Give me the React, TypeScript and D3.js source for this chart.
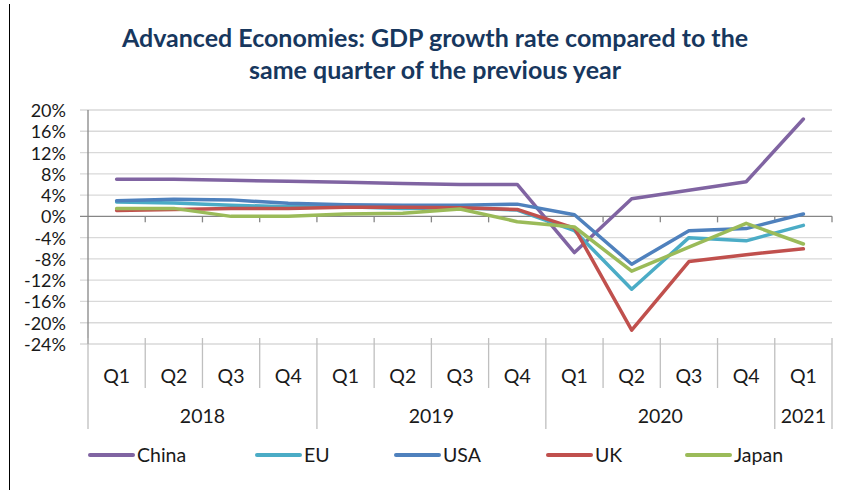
import React from "react";
import * as d3 from "d3";

const quarters = ["Q1", "Q2", "Q3", "Q4", "Q1", "Q2", "Q3", "Q4", "Q1", "Q2", "Q3", "Q4", "Q1"];
const yearLabels = ["2018", "2019", "2020", "2021"];
const yearSpans = [4, 4, 4, 1];
const yTicks = [20, 16, 12, 8, 4, 0, -4, -8, -12, -16, -20, -24];

const seriesNames = ["China", "EU", "USA", "UK", "Japan"];
const china = [7.0, 7.0, 6.8, 6.6, 6.4, 6.2, 6.0, 6.0, -6.8, 3.3, 4.9, 6.5, 18.3];
const eu = [2.7, 2.5, 2.1, 1.8, 1.8, 1.5, 1.6, 1.2, -2.7, -13.7, -4.0, -4.6, -1.7];
const usa = [2.95, 3.2, 3.1, 2.45, 2.2, 2.1, 2.1, 2.3, 0.3, -9.0, -2.7, -2.3, 0.45];
const uk = [1.1, 1.3, 1.5, 1.5, 1.7, 1.7, 1.6, 1.3, -2.2, -21.4, -8.5, -7.2, -6.1];
const japan = [1.5, 1.5, 0.0, 0.0, 0.45, 0.6, 1.4, -1.0, -2.0, -10.3, -5.8, -1.3, -5.2];
const seriesColors = ["#8064A2", "#4BACC6", "#4F81BD", "#C0504D", "#9BBB59"];
const legendX = [88, 255, 394, 546, 685];

const W = 851;
const H = 490;
const left = 88;
const right = 832;
const top = 110;
const bottom = 344;
const FONT = "Lato, 'Open Sans', sans-serif";

export default function App() {
  const data = [china, eu, usa, uk, japan];
  const x = d3.scaleBand<number>().domain(d3.range(quarters.length)).range([left, right]).padding(0);
  const y = d3.scaleLinear().domain([-24, 20]).range([bottom, top]);
  const line = d3
    .line<number>()
    .x((_, i) => (x(i) as number) + x.bandwidth() / 2)
    .y((d) => y(d));

  const yearBounds: number[] = [0];
  yearSpans.forEach((s, i) => yearBounds.push(yearBounds[i] + s));
  const bx = (i: number) => (i >= quarters.length ? right : (x(i) as number));

  return (
    <svg
      width={W}
      height={H}
      style={{ position: "absolute", left: 0, top: 0, background: "#fff" }}
      fontFamily={FONT}
    >
      <rect x={0} y={0} width={W} height={H} fill="#fff" />
      <line x1={9.5} x2={9.5} y1={4} y2={H} stroke="#000" strokeWidth={1} />

      <text x={435} y={47} textAnchor="middle" fontSize={25} fontWeight="bold" fill="#17375E">
        Advanced Economies: GDP growth rate compared to the
      </text>
      <text x={435} y={79} textAnchor="middle" fontSize={25} fontWeight="bold" fill="#17375E">
        same quarter of the previous year
      </text>

      {yTicks.map((t) => (
        <g key={t}>
          <line x1={80} x2={right} y1={y(t)} y2={y(t)} stroke={t === 0 ? "#868686" : "#D9D9D9"} strokeWidth={1.3} />
          <text x={66} y={y(t)} textAnchor="end" dominantBaseline="central" fontSize={18} fill="#1a1a1a">
            {t}%
          </text>
        </g>
      ))}
      <line x1={left} x2={left} y1={top} y2={bottom} stroke="#868686" strokeWidth={1.3} />
      {d3.range(1, quarters.length + 1).map((i) => (
        <line key={"zt" + i} x1={bx(i)} x2={bx(i)} y1={y(0)} y2={y(0) + 6} stroke="#868686" strokeWidth={1.3} />
      ))}

      {d3.range(0, quarters.length + 1).map((i) => {
        const isYear = yearBounds.includes(i);
        return (
          <line
            key={"sep" + i}
            x1={bx(i)}
            x2={bx(i)}
            y1={bottom - 6}
            y2={isYear ? 429 : 388}
            stroke="#BFBFBF"
            strokeWidth={1.3}
          />
        );
      })}
      {quarters.map((q, i) => (
        <text
          key={"q" + i}
          x={(x(i) as number) + x.bandwidth() / 2}
          y={375}
          textAnchor="middle"
          dominantBaseline="central"
          fontSize={19.5}
          fill="#1a1a1a"
        >
          {q}
        </text>
      ))}
      {yearLabels.map((yl, i) => (
        <text
          key={yl}
          x={(bx(yearBounds[i]) + bx(yearBounds[i + 1])) / 2}
          y={415.5}
          textAnchor="middle"
          dominantBaseline="central"
          fontSize={19.5}
          fill="#1a1a1a"
        >
          {yl}
        </text>
      ))}

      {data.map((s, k) => (
        <path
          key={seriesNames[k]}
          d={line(s) as string}
          fill="none"
          stroke={seriesColors[k]}
          strokeWidth={3.5}
          strokeLinejoin="round"
          strokeLinecap="round"
        />
      ))}

      {seriesNames.map((n, k) => (
        <g key={"lg" + n}>
          <line
            x1={legendX[k] + 2}
            x2={legendX[k] + 45}
            y1={455}
            y2={455}
            stroke={seriesColors[k]}
            strokeWidth={4}
            strokeLinecap="round"
          />
          <text x={legendX[k] + 49} y={454} dominantBaseline="central" fontSize={19.5} fill="#1a1a1a">
            {n}
          </text>
        </g>
      ))}
    </svg>
  );
}
